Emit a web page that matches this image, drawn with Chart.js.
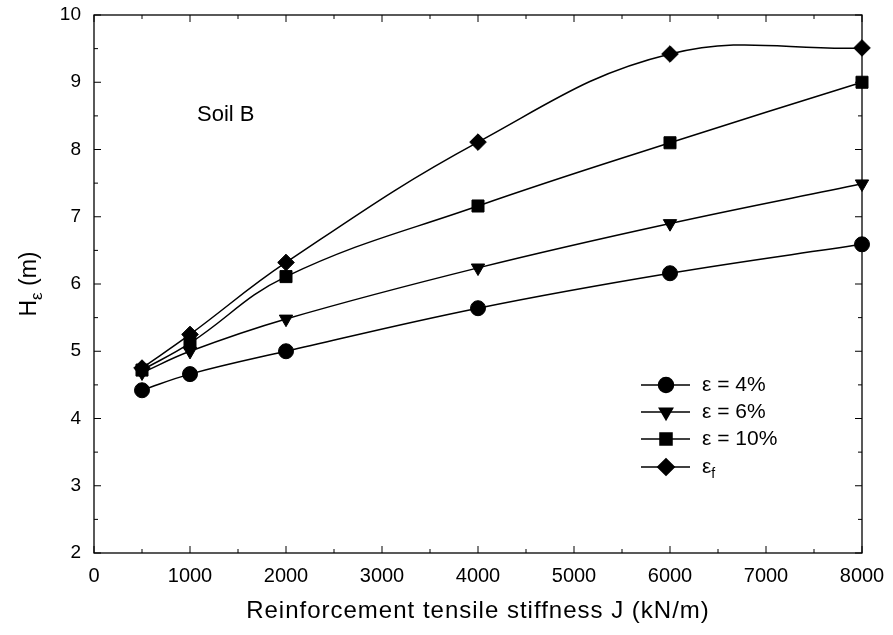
<!DOCTYPE html>
<html>
<head>
<meta charset="utf-8">
<script src="https://cdn.jsdelivr.net/npm/chart.js@4/dist/chart.umd.min.js"></script>
<style>
  html, body { margin: 0; padding: 0; background: #fff; }
  #wrap { width: 893px; height: 635px; }
</style>
</head>
<body>
<div id="wrap"><canvas id="chart" width="893" height="635"></canvas></div>
<script>
const stiffness = [500, 1000, 2000, 4000, 6000, 8000];
const h4 = [4.42, 4.66, 5.00, 5.64, 6.16, 6.59];
const h6 = [4.68, 5.00, 5.48, 6.24, 6.90, 7.49];
const h10 = [4.72, 5.12, 6.11, 7.16, 8.10, 9.00];
const hf = [4.75, 5.25, 6.32, 8.11, 9.42, 9.51];
const xTicks = [0, 1000, 2000, 3000, 4000, 5000, 6000, 7000, 8000];
const yTicks = [2, 3, 4, 5, 6, 7, 8, 9, 10];

const FONT = '"Liberation Sans", Arial, sans-serif';

function pts(vals) {
    return stiffness.map((x, i) => ({x: x, y: vals[i]}));
}

function series(label, vals, style, radius, rot) {
    return {
        label: label,
        data: pts(vals),
        borderColor: '#000',
        backgroundColor: '#000',
        borderWidth: 1.5,
        tension: 0.4,
        clip: false,
        pointStyle: style,
        pointRadius: radius,
        pointRotation: rot || 0,
        pointBorderWidth: 1
    };
}

// inward ticks, tick labels, box, legend and titles
const decor = {
    id: 'decor',
    beforeDatasetsDraw(chart) {
        const ctx = chart.ctx;
        const a = chart.chartArea;
        const xs = chart.scales.x, ys = chart.scales.y;
        ctx.save();
        ctx.strokeStyle = '#000';
        ctx.lineWidth = 1.3;
        ctx.strokeRect(a.left, a.top, a.right - a.left, a.bottom - a.top);
        ctx.lineWidth = 1;
        ctx.beginPath();
        for (let v = 0; v <= 8000; v += 500) {
            const px = xs.getPixelForValue(v);
            const len = v % 1000 === 0 ? 7 : 4;
            ctx.moveTo(px, a.bottom); ctx.lineTo(px, a.bottom - len);
            ctx.moveTo(px, a.top); ctx.lineTo(px, a.top + len);
        }
        for (let v = 2; v <= 10; v += 0.5) {
            const py = ys.getPixelForValue(v);
            const len = v % 1 === 0 ? 7 : 4;
            ctx.moveTo(a.left, py); ctx.lineTo(a.left + len, py);
            ctx.moveTo(a.right, py); ctx.lineTo(a.right - len, py);
        }
        ctx.stroke();
        ctx.restore();
    },
    afterDraw(chart) {
        const ctx = chart.ctx;
        const a = chart.chartArea;
        const xs = chart.scales.x, ys = chart.scales.y;
        ctx.save();
        ctx.strokeStyle = '#000';
        ctx.fillStyle = '#000';
        ctx.textBaseline = 'middle';

        // tick labels
        ctx.font = '20px ' + FONT;
        ctx.textAlign = 'center';
        xTicks.forEach(v => ctx.fillText(String(v), xs.getPixelForValue(v), a.bottom + 23));
        ctx.font = '19px ' + FONT;
        ctx.textAlign = 'right';
        yTicks.forEach(v => ctx.fillText(String(v), a.left - 13, ys.getPixelForValue(v)));

        // Soil B
        ctx.font = '22px ' + FONT;
        ctx.textAlign = 'left';
        ctx.fillText('Soil B', 197, 115);

        // legend
        const items = [
            {ds: 0, text: 'ε = 4%', y: 385},
            {ds: 1, text: 'ε = 6%', y: 412},
            {ds: 2, text: 'ε = 10%', y: 439},
            {ds: 3, text: 'ε', sub: 'f', y: 467}
        ];
        items.forEach(it => {
            const ds = chart.data.datasets[it.ds];
            ctx.lineWidth = 1.5;
            ctx.beginPath();
            ctx.moveTo(641, it.y); ctx.lineTo(690, it.y);
            ctx.stroke();
            Chart.helpers.drawPoint(ctx, {
                pointStyle: ds.pointStyle,
                radius: ds.pointRadius,
                rotation: ds.pointRotation,
                borderWidth: 1
            }, 666, it.y);
            ctx.font = '21px ' + FONT;
            ctx.fillText(it.text, 702, it.y);
            if (it.sub) {
                const w = ctx.measureText(it.text).width;
                ctx.font = '14px ' + FONT;
                ctx.fillText(it.sub, 702 + w, it.y + 7);
            }
        });

        // x title
        ctx.font = '24px ' + FONT;
        ctx.letterSpacing = '1px';
        ctx.textAlign = 'center';
        ctx.fillText('Reinforcement tensile stiffness J (kN/m)', (a.left + a.right) / 2, 611);
        ctx.letterSpacing = '0px';

        // y title with subscript
        ctx.translate(30, 284);
        ctx.rotate(-Math.PI / 2);
        ctx.textAlign = 'left';
        const main = 'H';
        const tail = ' (m)';
        ctx.font = '23px ' + FONT;
        const wH = ctx.measureText(main).width;
        const wT = ctx.measureText(tail).width;
        ctx.font = '17px ' + FONT;
        const wS = ctx.measureText('ε').width;
        const start = -(wH + wS + wT) / 2;
        ctx.font = '23px ' + FONT;
        ctx.fillText(main, start, 0);
        ctx.font = '17px ' + FONT;
        ctx.fillText('ε', start + wH, 7);
        ctx.font = '23px ' + FONT;
        ctx.fillText(tail, start + wH + wS, 0);
        ctx.restore();
    }
};

new Chart(document.getElementById('chart').getContext('2d'), {
    type: 'line',
    data: {
        datasets: [
            series('ε = 4%', h4, 'circle', 7.5),
            series('ε = 6%', h6, 'triangle', 7.7, 180),
            series('ε = 10%', h10, 'rect', 8.5),
            series('εf', hf, 'rectRot', 8.3)
        ]
    },
    options: {
        responsive: false,
        animation: false,
        layout: { padding: { top: 15, right: 31, left: 0, bottom: 0 } },
        plugins: { legend: { display: false }, tooltip: { enabled: false } },
        scales: {
            x: {
                type: 'linear',
                min: 0, max: 8000,
                afterBuildTicks: s => { s.ticks = xTicks.map(v => ({value: v})); },
                afterFit: s => { s.height = 82; },
                grid: { display: false, drawTicks: false },
                border: { display: false },
                ticks: { display: false }
            },
            y: {
                min: 2, max: 10,
                afterBuildTicks: s => { s.ticks = yTicks.map(v => ({value: v})); },
                afterFit: s => { s.width = 94; },
                grid: { display: false, drawTicks: false },
                border: { display: false },
                ticks: { display: false }
            }
        }
    },
    plugins: [decor]
});
</script>
</body>
</html>
